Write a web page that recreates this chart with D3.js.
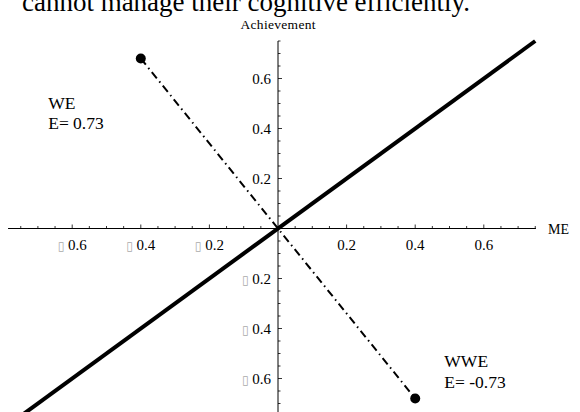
<!DOCTYPE html>
<html>
<head>
<meta charset="utf-8">
<script src="https://cdn.jsdelivr.net/npm/d3@7"></script>
<style>
  body { margin: 0; background: #fff; }
  svg { display: block; }
  text { font-family: "Liberation Serif", "Times New Roman", serif; fill: #000; }
</style>
</head>
<body>
<svg id="chart" width="580" height="412"></svg>
<script>
// data
const titleText = "cannot manage their cognitive efficiently.";
const yAxisTitle = "Achievement";
const xAxisTitle = "ME";
const xTickValues = [-0.6, -0.4, -0.2, 0.2, 0.4, 0.6];
const yTickValues = [-0.6, -0.4, -0.2, 0.2, 0.4, 0.6];
const minorStep = 0.05;
const regressionLine = [[-0.75, -0.75], [0.75, 0.75]];   // slope 1 through origin
const groupPoints = [[-0.4, 0.68], [0.4, -0.68]];
const groupNames = ["WE", "WWE"];
const groupEffects = ["0.73", "-0.73"];

function drawChart() {
    const svg = d3.select("#chart");

    // scales: origin at (278, 228.5)
    const x = d3.scaleLinear().domain([-0.8, 0.8]).range([278 - 0.8 * 343, 278 + 0.8 * 343]);
    const y = d3.scaleLinear().domain([-0.8, 0.8]).range([228.5 + 0.8 * 250, 228.5 - 0.8 * 250]);

    // title (cut off at top)
    svg.append("text")
        .attr("x", 22).attr("y", 11)
        .attr("font-size", 27)
        .attr("textLength", 448)
        .text(titleText);

    // negative labels show a missing-glyph box in place of the minus sign
    function tickLabel(d) {
        const t = d3.select(this);
        if (d < 0) {
            t.append("tspan").attr("font-family", "DejaVu Sans").attr("font-size", 12).attr("fill", "#aaa").text("\u25AF");
            t.append("tspan").text(" " + Math.abs(d).toFixed(1));
        } else {
            t.text(d.toFixed(1));
        }
    }

    // horizontal axis
    const gx = svg.append("g");
    gx.append("line")
        .attr("x1", x(-0.787)).attr("x2", x(0.752))
        .attr("y1", y(0)).attr("y2", y(0))
        .attr("stroke", "#000").attr("stroke-width", 1);
    const xMinor = d3.range(-15, 16).map(i => i * minorStep).filter(v => Math.abs(v) > 1e-9);
    gx.selectAll("line.tk").data(xMinor).join("line")
        .attr("class", "tk")
        .attr("x1", d => x(d)).attr("x2", d => x(d))
        .attr("y1", y(0))
        .attr("y2", d => y(0) - (Math.abs(Math.round(d * 20)) % 4 === 0 ? 4 : 2.5))
        .attr("stroke", "#000").attr("stroke-width", 0.8);
    gx.selectAll("text").data(xTickValues).join("text")
        .attr("x", d => x(d)).attr("y", y(0) + 21)
        .attr("text-anchor", "middle")
        .attr("font-size", 15)
        .each(tickLabel);
    svg.append("text")
        .attr("x", 548).attr("y", y(0) + 5)
        .attr("font-size", 14)
        .text(xAxisTitle);

    // vertical axis
    const gy = svg.append("g");
    gy.append("line")
        .attr("x1", x(0)).attr("x2", x(0))
        .attr("y1", y(0.75)).attr("y2", 412)
        .attr("stroke", "#000").attr("stroke-width", 1);
    const yMinor = d3.range(-15, 16).map(i => i * minorStep).filter(v => Math.abs(v) > 1e-9);
    gy.selectAll("line.tk").data(yMinor).join("line")
        .attr("class", "tk")
        .attr("x1", x(0))
        .attr("x2", d => x(0) + (Math.abs(Math.round(d * 20)) % 4 === 0 ? 4 : 2.5))
        .attr("y1", d => y(d)).attr("y2", d => y(d))
        .attr("stroke", "#000").attr("stroke-width", 0.8);
    gy.selectAll("text").data(yTickValues).join("text")
        .attr("x", x(0) - 7).attr("y", d => y(d) + 5)
        .attr("text-anchor", "end")
        .attr("font-size", 15)
        .each(tickLabel);
    svg.append("text")
        .attr("x", x(0)).attr("y", 28.5)
        .attr("text-anchor", "middle")
        .attr("font-size", 13.5)
        .attr("textLength", 75)
        .text(yAxisTitle);

    // solid line y = x
    const line = d3.line().x(d => x(d[0])).y(d => y(d[1]));
    svg.append("path")
        .datum(regressionLine)
        .attr("d", line)
        .attr("fill", "none")
        .attr("stroke", "#000")
        .attr("stroke-width", 4);

    // dot-dash line between the two groups
    svg.append("path")
        .datum(groupPoints)
        .attr("d", line)
        .attr("fill", "none")
        .attr("stroke", "#000")
        .attr("stroke-width", 2)
        .attr("stroke-dasharray", "8,4,1.5,4");

    svg.selectAll("circle.pt").data(groupPoints).join("circle")
        .attr("class", "pt")
        .attr("cx", d => x(d[0])).attr("cy", d => y(d[1]))
        .attr("r", 5)
        .attr("fill", "#000");

    // group labels
    const labelPos = [[-0.67, 0.48], [0.485, -0.555]];
    groupNames.forEach((name, i) => {
        const t = svg.append("text")
            .attr("x", x(labelPos[i][0])).attr("y", y(labelPos[i][1]))
            .attr("font-size", 17.5);
        t.append("tspan").text(name);
        t.append("tspan").attr("x", x(labelPos[i][0])).attr("dy", 20.5).text("E= " + groupEffects[i]);
    });
}

document.addEventListener("DOMContentLoaded", () => {
    drawChart();
});
</script>
</body>
</html>
